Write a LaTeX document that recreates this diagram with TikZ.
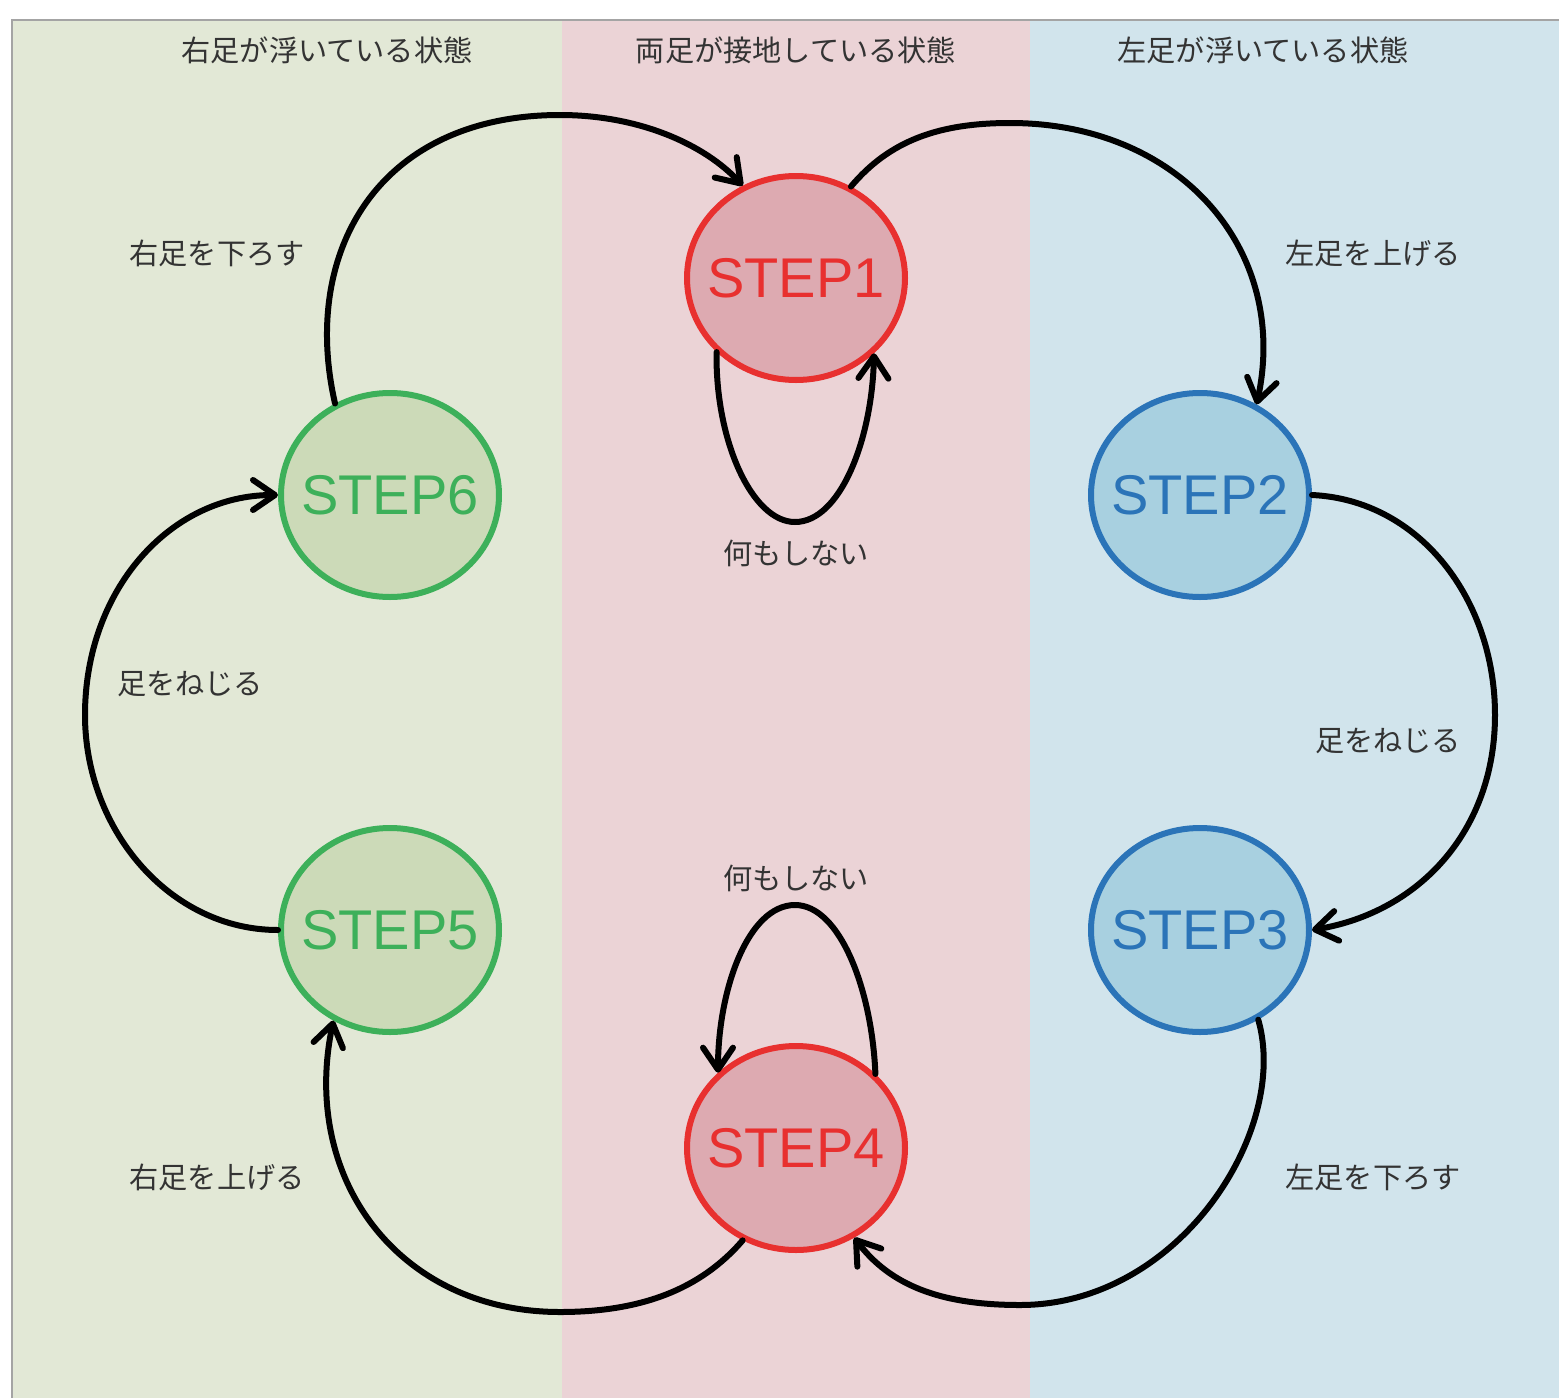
\documentclass[tikz,border=0pt]{standalone}
\usepackage{fontspec}
\setmainfont{Liberation Sans}
\newfontfamily\jpfont{Noto Sans CJK JP}
\usetikzlibrary{arrows.meta,shapes.geometric}
\definecolor{panelgreen}{HTML}{E2E8D6}
\definecolor{panelpink}{HTML}{EBD3D6}
\definecolor{panelblue}{HTML}{D1E4EC}
\definecolor{fillred}{HTML}{DDAAB1}
\definecolor{fillblue}{HTML}{A8D0E0}
\definecolor{fillgreen}{HTML}{CCDAB8}
\definecolor{linered}{HTML}{E8302F}
\definecolor{lineblue}{HTML}{2B74B8}
\definecolor{linegreen}{HTML}{3DB05A}
\definecolor{textgray}{HTML}{333333}
\definecolor{framegray}{HTML}{A4A4A4}
\newcommand{\steptext}[1]{\makebox[0pt]{\raisebox{-2pt}{#1}}}
\begin{document}
\begin{tikzpicture}[x=0.5pt,y=-0.5pt,
  stepnode/.style={ellipse,draw,line width=3pt,inner sep=0pt,minimum width=109pt,minimum height=102pt,
    font=\fontsize{28pt}{30pt}\selectfont},
  redstate/.style={stepnode,draw=linered,fill=fillred,text=linered},
  bluestate/.style={stepnode,draw=lineblue,fill=fillblue,text=lineblue},
  greenstate/.style={stepnode,draw=linegreen,fill=fillgreen,text=linegreen},
  lbl/.style={font=\jpfont\fontsize{14.6pt}{16pt}\selectfont,text=textgray,inner sep=0pt},
  conn/.style={line width=3pt,line cap=round,black,-{Straight Barb[length=11pt,width=15pt,line cap=round,line join=round]}},
  loopconn/.style={conn}
]
\useasboundingbox (0,0) rectangle (1559,1398);
\fill[white] (0,0) rectangle (1559,1398);
\fill[panelgreen] (13,21) rectangle (562,1398);
\fill[panelpink] (562,21) rectangle (1030,1398);
\fill[panelblue] (1030,21) rectangle (1559,1398);
\draw[framegray,line width=1.2pt] (12,1398) -- (12,20) -- (1559,20);

% headings
\node[lbl] (h1) at (327,50) {右足が浮いている状態};
\node[lbl] (h2) at (796,50) {両足が接地している状態};
\node[lbl] (h3) at (1263,50) {左足が浮いている状態};

% states
\node[redstate] (s1) at (796,278) {\steptext{STEP1}};
\node[bluestate] (s2) at (1200,495) {\steptext{STEP2}};
\node[bluestate] (s3) at (1200,930) {\steptext{STEP3}};
\node[redstate] (s4) at (796,1148) {\steptext{STEP4}};
\node[greenstate] (s5) at (390,930) {\steptext{STEP5}};
\node[greenstate] (s6) at (390,495) {\steptext{STEP6}};

% labels
\node[lbl] (l61) at (217,253) {右足を下ろす};
\node[lbl] (l12) at (1373,253) {左足を上げる};
\node[lbl] (l11) at (796,553) {何もしない};
\node[lbl] (l56) at (190,684) {足をねじる};
\node[lbl] (l23) at (1388,741) {足をねじる};
\node[lbl] (l44) at (796,878) {何もしない};
\node[lbl] (l45) at (217,1177) {右足を上げる};
\node[lbl] (l34) at (1373,1177) {左足を下ろす};

% connectors
\draw[conn] (s6.121) .. controls (300,250) and (380,115) .. (560,115)
  .. controls (640,115) and (705,145) .. (s1.120);
\draw[conn] (s1.59) .. controls (890,140) and (940,123) .. (1010,123)
  .. controls (1180,123) and (1290,250) .. (s2.58);
\draw[conn] (s2.east) .. controls (1420,500) and (1495,600) .. (1495,715)
  .. controls (1495,830) and (1420,912) .. (s3.east);
\draw[conn] (s3.-57) .. controls (1290,1130) and (1180,1305) .. (1020,1305)
  .. controls (940,1305) and (890,1285) .. (s4.-57);
\draw[conn] (s4.240) .. controls (700,1290) and (640,1312) .. (560,1312)
  .. controls (400,1312) and (300,1180) .. (s5.238);
\draw[conn] (s5.west) .. controls (170,930) and (85,830) .. (85,715)
  .. controls (85,590) and (170,495) .. (s6.west);
\draw[loopconn] (s1.223) .. controls (715,440) and (752,522) .. (795,522)
  .. controls (840,522) and (872,440) .. (s1.-44);
\draw[loopconn] (s4.43) .. controls (872,990) and (840,905) .. (795,905)
  .. controls (748,905) and (718,990) .. (s4.136);
\end{tikzpicture}
\end{document}
